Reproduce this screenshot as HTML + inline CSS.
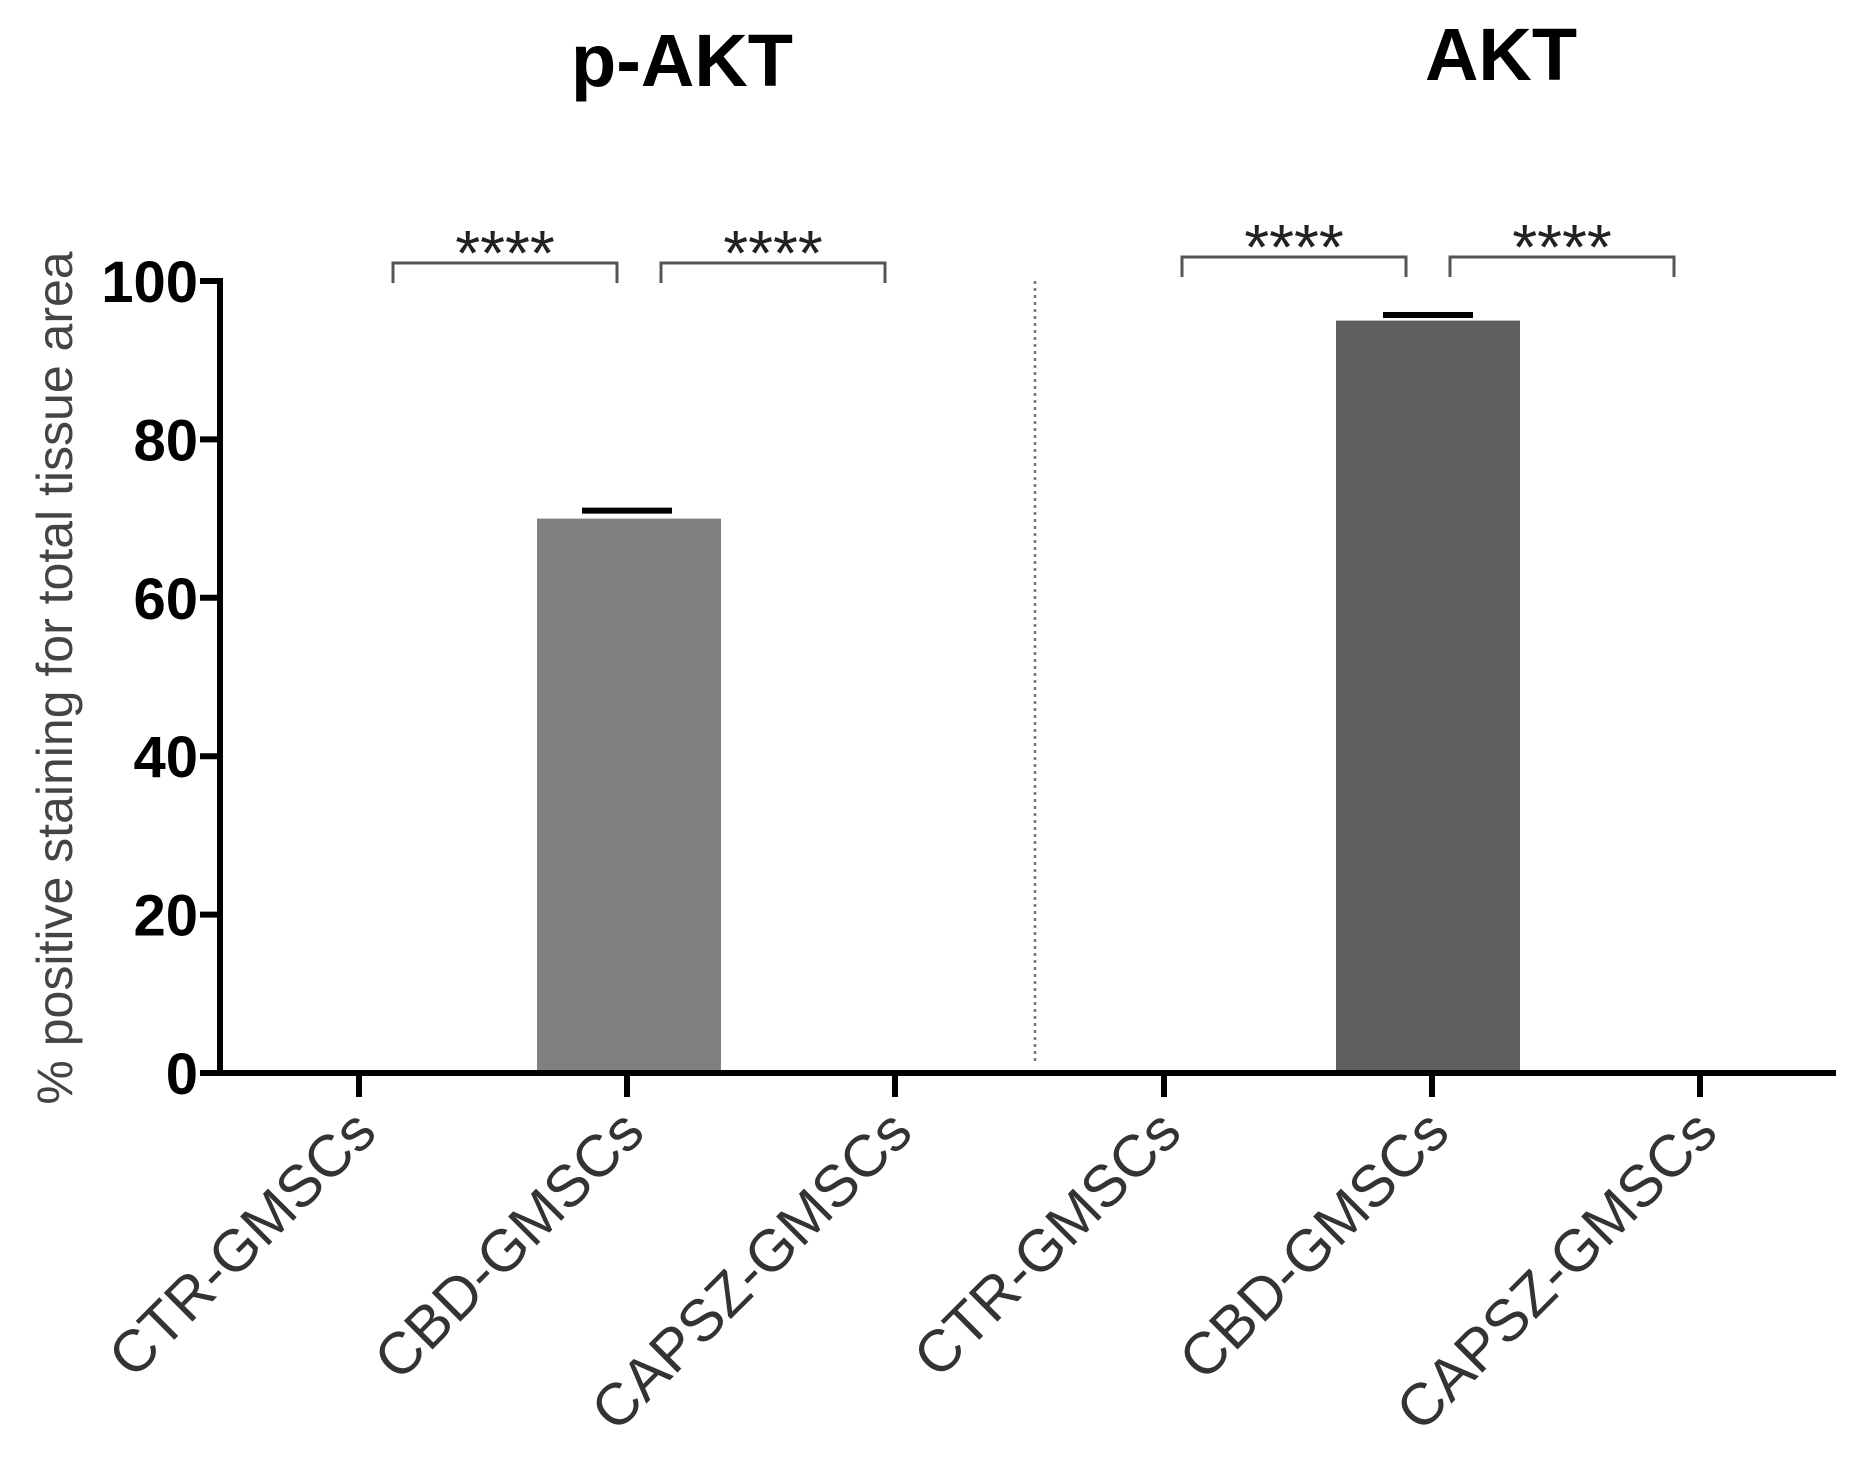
<!DOCTYPE html>
<html><head><meta charset="utf-8"><style>
html,body{margin:0;padding:0;background:#fff;}
svg{display:block;font-family:"Liberation Sans",Arial,sans-serif;}
</style></head><body>
<svg id="chart" width="1866" height="1484" viewBox="0 0 1866 1484" xmlns="http://www.w3.org/2000/svg">
<rect width="1866" height="1484" fill="#fff"/>
<text x="682" y="86" font-size="74" font-weight="bold" text-anchor="middle" fill="#000">p-AKT</text>
<text x="1501" y="80" font-size="74" font-weight="bold" text-anchor="middle" fill="#000">AKT</text>
<text transform="translate(72,678) rotate(-90)" font-size="50" text-anchor="middle" fill="#444">% positive staining for total tissue area</text>
<g id="g"></g>
</svg>
<script>
const categories = ["CTR-GMSCs","CBD-GMSCs","CAPSZ-GMSCs","CTR-GMSCs","CBD-GMSCs","CAPSZ-GMSCs"];
const values = [0, 70, 0, 0, 95, 0];
const errors = [0, 1, 0, 0, 0.7, 0];
const barColors = ["#808080","#808080","#808080","#5f5f5f","#5f5f5f","#5f5f5f"];
const yTicks = [0, 20, 40, 60, 80, 100];
const sigPairs = [[0,1,"****"],[1,2,"****"],[3,4,"****"],[4,5,"****"]];

const NS = "http://www.w3.org/2000/svg";
const g = document.getElementById("g");
const y0 = 1073, yTop = 281, xAxis = 220, xEnd = 1836;
const y = v => y0 - (v / 100) * (y0 - yTop);
const xPos = [359, 627, 895, 1164, 1432, 1700];
const x = i => xPos[i];
const barW = 184;
function el(tag, attrs, parent) {
  const e = document.createElementNS(NS, tag);
  for (const k in attrs) e.setAttribute(k, attrs[k]);
  (parent || g).appendChild(e);
  return e;
}
values.forEach((v, i) => {
  if (v <= 0) return;
  const r = el("rect", {x: x(i) - barW/2 + (i>=3?-4:2), y: y(v), width: barW, height: y0 - y(v), fill: barColors[i]});
  
  
  const e = el("line", {x1: x(i) - 45 + (i>=3?-4:0), x2: x(i) + 45 + (i>=3?-4:0), y1: y(v + errors[i]), y2: y(v + errors[i]), stroke: "#000", "stroke-width": 6});
  
  
});
const ya = el("line", {x1: xAxis, x2: xAxis, y1: yTop - 3, y2: y0 + 3, stroke: "#000", "stroke-width": 6});


const xa = el("line", {x1: xAxis - 3, x2: xEnd, y1: y0, y2: y0, stroke: "#000", "stroke-width": 6});


const dl = el("line", {x1: 1035, x2: 1035, y1: yTop, y2: y0 - 8, stroke: "#777", "stroke-width": 2.5, "stroke-dasharray": "3 4"});


yTicks.forEach(t => {
  el("line", {x1: xAxis - 20, x2: xAxis, y1: y(t), y2: y(t), stroke: "#000", "stroke-width": 6});
  const tx = el("text", {x: 198, y: y(t) + 21, "font-size": 58, "font-weight": "bold", "text-anchor": "end", fill: "#000"});
  tx.textContent = t;
  
  
});
categories.forEach((c, i) => {
  el("line", {x1: x(i), x2: x(i), y1: y0, y2: y0 + 24, stroke: "#000", "stroke-width": 6});
  const tx = el("text", {transform: `translate(${x(i) + 20},${y0 + 62}) rotate(-45)`, "font-size": 59, "text-anchor": "end", fill: "#333"});
  tx.textContent = c;
  
  
});
sigPairs.forEach((p, k) => {
  const right = p[0] >= 3;
  const a = x(p[0]) + (right ? 18 : 34), b = x(p[1]) - (right ? 26 : 10);
  const by = right ? 257 : 263;
  const br = el("path", {d: `M${a},${by+20} L${a},${by} L${b},${by} L${b},${by+20}`, fill: "none", stroke: "#555", "stroke-width": 3});
  
  
  const st = el("text", {x: (a + b) / 2, y: by + 12, "font-size": 64, "text-anchor": "middle", fill: "#222"});
  st.textContent = p[2];
  
  
});
</script>
</body></html>
